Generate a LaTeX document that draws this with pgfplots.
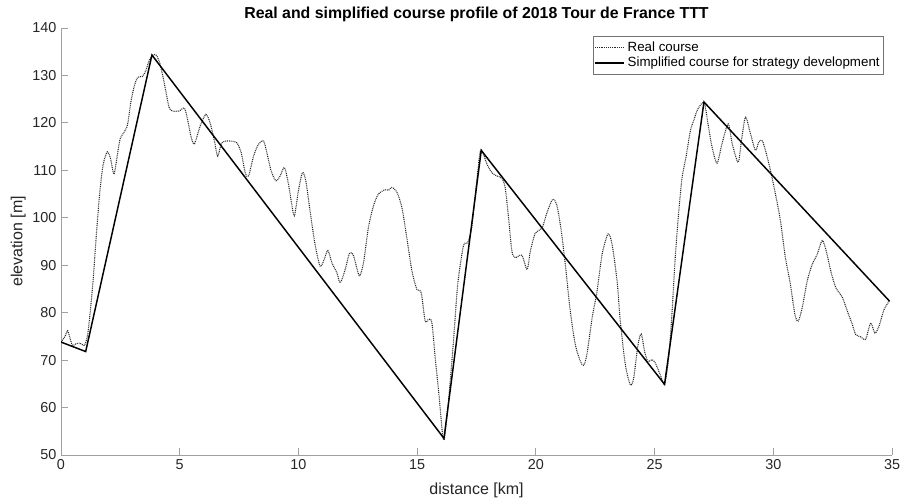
\documentclass[border=0pt]{standalone}
\usepackage{fontspec}
\setmainfont{Liberation Sans}
\usepackage{pgfplots}
\pgfplotsset{compat=1.18}

\definecolor{axgray}{RGB}{160,160,160}
\definecolor{txtgray}{RGB}{38,38,38}

\begin{document}
\begin{tikzpicture}
\begin{axis}[
  name=ax,
  scale only axis,
  width=623.25pt, height=320.25pt,
  xmin=0, xmax=35, ymin=50, ymax=140,
  axis lines*=left,
  axis line style={color=axgray, line width=0.6pt},
  xtick={0,5,...,35}, ytick={50,60,...,140},
  tick align=inside,
  major tick length=5.6pt,
  tick style={color=axgray, line width=0.6pt},
  ticklabel style={font=\fontsize{10.8}{12}\selectfont, color=txtgray},
  /pgf/number format/assume math mode=true,
  xlabel={distance [km]},
  ylabel={elevation [m]},
  every axis x label/.style={at={(axis description cs:0.5,0)}, anchor=center, yshift=-26.5pt, font=\fontsize{12}{13}\selectfont, color=txtgray},
  every axis y label/.style={at={(axis description cs:0,0.5)}, anchor=center, xshift=-32pt, rotate=90, font=\fontsize{12}{13}\selectfont, color=txtgray},
  title={Real and simplified course profile of 2018 Tour de France TTT},
  every axis title/.style={at={(axis description cs:0.5,1)}, anchor=center, yshift=10pt, font=\bfseries\fontsize{11.9}{13}\selectfont},
  legend style={at={(1,1)}, anchor=north east, xshift=-6pt, yshift=-6pt,
    draw=black!55, line width=0.5pt, font=\fontsize{10}{11.5}\selectfont,
    inner xsep=1pt, inner ysep=2pt, row sep=-1pt},
  legend cell align=left,
  legend image code/.code={\draw[#1] (-2pt,0pt) -- (20pt,0pt);},
]
\addplot[color=black!85, line width=0.8pt, dash pattern=on 0.7pt off 0.7pt, smooth, tension=0.45] coordinates {
(0,73.8) (0.17,75.0) (0.28,76.2) (0.38,74.6) (0.48,73.1) (0.62,73.4) (0.8,73.6) (0.98,73.1)
(1.11,75.0) (1.22,79.6) (1.36,87.3) (1.5,97.2) (1.64,105.7) (1.78,111.3) (1.95,113.9) (2.09,112.4)
(2.23,109.2) (2.37,113.1) (2.49,116.6) (2.7,118.4) (2.81,119.8) (2.95,124.6) (3.09,127.8) (3.23,129.6)
(3.43,129.8) (3.57,131.0) (3.71,133.1) (3.85,134.2) (3.99,134.4) (4.13,133.1) (4.27,130.3) (4.41,126.8)
(4.55,123.3) (4.69,122.5) (4.97,122.5) (5.2,123.1) (5.34,120.5) (5.48,117.0) (5.62,115.6) (5.86,119.3)
(6.1,121.8) (6.28,120.0) (6.46,116.2) (6.6,113.0) (6.77,115.8) (7.05,116.2) (7.4,115.8) (7.59,113.7)
(7.76,109.5) (7.9,108.8) (8.11,113.0) (8.32,115.5) (8.53,116.2) (8.67,113.7) (8.85,109.9) (9.05,107.8)
(9.23,108.8) (9.41,110.6) (9.58,107.1) (9.72,102.8) (9.83,100.4) (10.0,105.7) (10.17,109.5) (10.31,107.8)
(10.49,101.4) (10.7,94.4) (10.91,89.8) (11.06,90.9) (11.24,93.1) (11.41,90.5) (11.62,88.4) (11.76,86.3)
(11.97,89.1) (12.15,92.5) (12.32,92.0) (12.56,87.8) (12.74,90.5) (12.95,98.0) (13.16,102.5) (13.37,105.0)
(13.65,105.9) (13.8,105.8) (13.93,106.4) (14.14,105.5) (14.36,102.1) (14.57,95.6) (14.78,88.8) (14.99,84.9)
(15.17,84.2) (15.34,78.2) (15.48,78.6) (15.62,77.9) (15.76,70.5) (15.93,62.1) (16.07,54.3) (16.15,53.6)
(16.32,61.3) (16.53,74.0) (16.71,86.0) (16.95,94.1) (17.13,94.8) (17.30,98.0) (17.51,107.8) (17.65,113.8)
(17.75,114.0) (17.94,111.3) (18.15,109.5) (18.36,108.8) (18.57,108.3) (18.71,106.3) (18.85,100.0) (18.99,93.0)
(19.13,91.6) (19.41,92.1) (19.63,89.1) (19.77,93.0) (19.98,96.8) (20.26,97.8) (20.47,101.1) (20.71,103.9)
(20.89,102.5) (21.07,97.2) (21.24,90.2) (21.45,80.3) (21.66,73.3) (21.87,69.8) (22.01,68.9) (22.15,71.2)
(22.37,78.9) (22.58,84.6) (22.79,92.3) (23.04,96.6) (23.21,94.4) (23.42,86.7) (23.56,78.0) (23.77,69.0)
(23.98,64.8) (24.12,66.2) (24.30,73.2) (24.44,75.5) (24.58,71.8) (24.72,69.7) (24.89,70.1) (25.03,69.4)
(25.24,66.9) (25.42,64.9) (25.59,70.4) (25.73,79.6) (25.87,91.6) (26.02,101.4) (26.16,108.5) (26.32,112.7)
(26.51,118.4) (26.65,120.5) (26.79,122.6) (26.97,124.0) (27.11,124.0) (27.25,119.8) (27.42,114.9) (27.63,111.5)
(27.84,115.6) (28.1,119.8) (28.27,115.6) (28.52,111.7) (28.66,116.3) (28.83,121.2) (29.04,117.7) (29.25,114.2)
(29.39,116.0) (29.53,116.3) (29.67,114.2) (29.88,110.0) (30.09,105.0) (30.3,99.4) (30.51,91.6) (30.72,86.0)
(30.91,79.6) (31.05,78.2) (31.22,81.1) (31.43,86.7) (31.64,90.2) (31.85,92.3) (32.06,95.2) (32.23,93.0)
(32.42,88.8) (32.63,85.3) (32.91,83.2) (33.12,80.3) (33.33,77.5) (33.47,75.4) (33.68,74.9) (33.89,74.4)
(34.1,77.8) (34.28,75.7) (34.45,77.1) (34.66,80.6) (34.88,82.4)
};
\addlegendentry{Real course}
\addplot[color=black, line width=1.1pt] coordinates {
(0,73.8) (1.04,71.8) (3.83,134.3) (16.13,53.5) (17.70,114.2) (25.42,64.9) (27.08,124.4) (34.9,82.4)
};
\addlegendentry{Simplified course for strategy development}
\end{axis}
\pgfresetboundingbox
\path[use as bounding box] ([xshift=-45.75pt, yshift=-34.5pt]ax.south west) rectangle ([xshift=6.75pt, yshift=21pt]ax.north east);
\end{tikzpicture}
\end{document}
